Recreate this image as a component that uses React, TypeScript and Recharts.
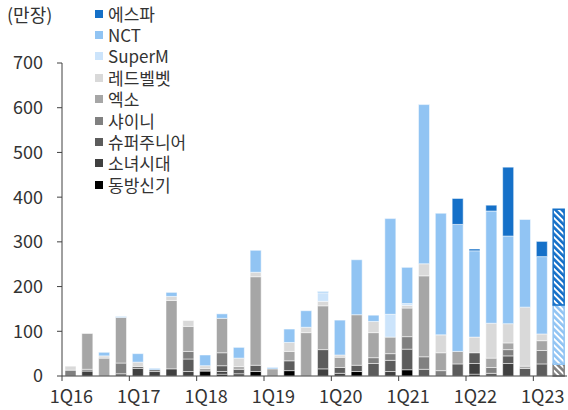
import React from 'react';
import { BarChart, Bar, XAxis, YAxis, Cell } from 'recharts';

const quarters = ['1Q16','2Q16','3Q16','4Q16','1Q17','2Q17','3Q17','4Q17','1Q18','2Q18','3Q18','4Q18','1Q19','2Q19','3Q19','4Q19','1Q20','2Q20','3Q20','4Q20','1Q21','2Q21','3Q21','4Q21','1Q22','2Q22','3Q22','4Q22','1Q23','2Q23'];
const forecastQuarter = '2Q23';

const dbsk   = [0,0,0,0,0,0,0,0,11,4,0,10,0,12,0,0,0,10,0,0,14,0,0,0,4,0,0,0,0,0];
const snsd   = [0,11,0,0,17,10,16,10,0,6,5,0,0,0,0,16,6,0,0,10,0,0,0,0,24,0,28,0,0,0];
const suju   = [0,0,0,5,4,4,0,28,0,13,10,14,0,22,0,43,13,14,28,25,46,15,0,27,24,6,17,17,27,0];
const shinee = [13,4,0,24,0,0,0,17,0,29,0,0,0,0,0,0,0,0,13,15,28,28,12,0,0,13,14,0,30,26];
const exo    = [0,80,40,102,0,0,153,56,6,77,6,198,16,21,97,98,23,113,56,37,64,181,40,28,0,21,15,5,22,0];
const rv     = [9,0,5,0,10,0,9,13,6,0,19,10,0,20,12,10,5,0,25,0,6,27,40,0,35,78,43,132,15,0];
const superm = [0,0,0,0,0,0,0,0,0,0,0,0,0,0,0,19,0,0,0,51,4,0,0,0,0,0,0,0,0,0];
const nct    = [0,0,8,2,19,3,9,0,24,10,24,49,3,30,37,3,78,123,14,214,81,356,272,284,193,251,196,196,173,133];
const aespa  = [0,0,0,0,0,0,0,0,0,0,0,0,0,0,0,0,0,0,0,0,0,0,0,58,4,13,154,0,34,214];

const yTicks = [0,100,200,300,400,500,600,700];

// bottom to top
const series = [
  { key: 'dbsk', name: '동방신기', color: '#000000', values: dbsk },
  { key: 'snsd', name: '소녀시대', color: '#404040', values: snsd },
  { key: 'suju', name: '슈퍼주니어', color: '#5c5c5c', values: suju },
  { key: 'shinee', name: '샤이니', color: '#808080', values: shinee },
  { key: 'exo', name: '엑소', color: '#a6a6a6', values: exo },
  { key: 'rv', name: '레드벨벳', color: '#d9d9d9', values: rv },
  { key: 'superm', name: 'SuperM', color: '#cce4fb', values: superm },
  { key: 'nct', name: 'NCT', color: '#91c4f3', values: nct },
  { key: 'aespa', name: '에스파', color: '#1570c8', values: aespa },
];

const data = quarters.map((q, i) => {
  const row: any = { q };
  series.forEach(s => { row[s.key] = s.values[i]; });
  return row;
});

const W = 568, H = 410;
const M = { top: 63, right: 1, left: 0, bottom: 0 };
const Y_W = 62;
const X_H = 34;
const band = (W - M.left - M.right - Y_W) / quarters.length;
const FONT = '"Noto Sans CJK KR", "Noto Sans", sans-serif';
const AXIS = '#404040';

const XTick = (props: any) => {
  const { x, y, payload, index } = props;
  if (index % 4 !== 0) return null;
  return (
    <g>
      <line x1={x - band / 2} x2={x - band / 2} y1={y} y2={y + 5} stroke={AXIS} strokeWidth={1} />
      <text x={x + 1} y={y + 27} textAnchor="middle" fontSize={18} fill="#333" fontFamily={FONT}>{payload.value}</text>
    </g>
  );
};

const LegendBox = () => (
  <div style={{ position: 'absolute', left: 95, top: 3, fontFamily: FONT, fontSize: 17, color: '#333' }}>
    {[...series].reverse().map(s => (
      <div key={s.key} style={{ display: 'flex', alignItems: 'center', height: 21.4, whiteSpace: 'nowrap' }}>
        <span style={{ display: 'inline-block', width: 8, height: 8, background: s.color, marginRight: 5 }} />
        <span style={{ lineHeight: '18px' }}>{s.name}</span>
      </div>
    ))}
  </div>
);

export default function App() {
  return (
    <div style={{ position: 'absolute', left: 0, top: 0, width: W, height: H, background: '#fff' }}>
      <svg width={0} height={0} style={{ position: 'absolute' }}>
        <defs>
          {series.map(s => (
            <pattern key={s.key} id={`hatch-${s.key}`} patternUnits="userSpaceOnUse" width={4.5} height={4.5} patternTransform="rotate(-45)">
              <rect width={4.5} height={4.5} fill="#fff" />
              <rect width={2.6} height={4.5} fill={s.color} />
            </pattern>
          ))}
        </defs>
      </svg>
      <div style={{ position: 'absolute', left: 7, top: 3, fontFamily: FONT, fontSize: 18, color: '#333', lineHeight: '22px' }}>(만장)</div>
      <BarChart width={W} height={H} data={data} margin={M} barCategoryGap={0}>
        <XAxis dataKey="q" interval={0} height={X_H} tickSize={0} tickMargin={0} tickLine={false}
          axisLine={{ stroke: AXIS, strokeWidth: 1 }} tick={<XTick />} />
        <YAxis width={Y_W} domain={[0, 700]} ticks={yTicks} interval={0} tickSize={5} tickMargin={14}
          axisLine={{ stroke: AXIS, strokeWidth: 1 }} tickLine={{ stroke: AXIS, strokeWidth: 1 }}
          tick={{ fontSize: 18, fill: '#333', fontFamily: FONT }} />
        {series.map(s => (
          <Bar key={s.key} dataKey={s.key} name={s.name} stackId="a" fill={s.color} barSize={11}
            stroke="#ffffff" strokeWidth={0.5} isAnimationActive={false}>
            {data.map(d => (
              d.q === forecastQuarter
                ? <Cell key={d.q} fill={`url(#hatch-${s.key})`} stroke={s.color} strokeWidth={1.5} />
                : <Cell key={d.q} fill={s.color} />
            ))}
          </Bar>
        ))}
      </BarChart>
      <LegendBox />
    </div>
  );
}
